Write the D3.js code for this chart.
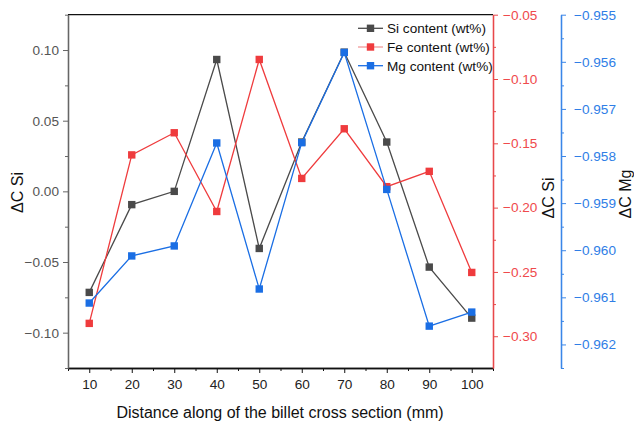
<!DOCTYPE html>
<html>
<head>
<meta charset="utf-8">
<script src="https://cdn.jsdelivr.net/npm/d3@7"></script>
<style>
  body { margin: 0; background: #fff; }
  text { font-family: "Liberation Sans", Arial, sans-serif; }
</style>
</head>
<body>
<svg width="634" height="422"></svg>
<script>
var svg = d3.select('svg');

// data
var distance = [10, 20, 30, 40, 50, 60, 70, 80, 90, 100];
var siValues = [-0.0715, -0.0094, 0.0000, 0.0933, -0.0404, 0.0349, 0.0985, 0.0349, -0.0536, -0.0897];
var feValues = [-0.290, -0.159, -0.1418, -0.203, -0.0848, -0.1773, -0.1387, -0.1837, -0.1718, -0.2504];
var mgValues = [-0.961121, -0.960121, -0.959909, -0.957723, -0.960823, -0.957717, -0.955802, -0.958709, -0.961611, -0.961313];

var xTicks = [10, 20, 30, 40, 50, 60, 70, 80, 90, 100];
var siTicks = [-0.10, -0.05, 0.00, 0.05, 0.10];
var feTicks = [-0.30, -0.25, -0.20, -0.15, -0.10, -0.05];
var mgTicks = [-0.962, -0.961, -0.960, -0.959, -0.958, -0.957, -0.956, -0.955];

var series = [
  { name: 'Si content (wt%)', values: siValues, color: '#4a4a4a', legendLine: '#4a4a4a', axis: 'si' },
  { name: 'Fe content (wt%)', values: feValues, color: '#ef3b3d', legendLine: '#f29a9a', axis: 'fe' },
  { name: 'Mg content (wt%)', values: mgValues, color: '#1a6ee4', legendLine: '#1a6ee4', axis: 'mg' }
];

var plotL = 68, plotR = 493, plotT = 14.7, plotB = 368;
var mgAxisX = 561;

var x = d3.scaleLinear().domain([5, 105]).range([plotL, plotR]);
var ySi = d3.scaleLinear().domain([-0.125, 0.125]).range([plotB, plotT]);
var yFe = d3.scaleLinear().domain([-0.3247, -0.05]).range([plotB, plotT]);
var yMg = d3.scaleLinear().domain([-0.9625, -0.955]).range([plotB, plotT]);
var scales = { si: ySi, fe: yFe, mg: yMg };

// minor ticks halfway between majors, kept inside the domain
function minors(major, step, domain) {
  var lo = Math.min(domain[0], domain[1]), hi = Math.max(domain[0], domain[1]);
  var out = [];
  var cands = major.map(function(v) { return v - step / 2; });
  cands.push(major[major.length - 1] + step / 2);
  cands.forEach(function(v) {
    if (v >= lo - 1e-9 && v <= hi + 1e-9) out.push(v);
  });
  return out;
}

// top frame line
svg.append('line')
  .attr('x1', plotL).attr('x2', plotR)
  .attr('y1', plotT).attr('y2', plotT)
  .attr('stroke', '#111').attr('stroke-width', 1.3);

// bottom axis
var gx = svg.append('g').attr('transform', 'translate(0,' + plotB + ')');
gx.call(d3.axisBottom(x).tickValues(xTicks).tickSize(5).tickSizeOuter(0).tickPadding(6).tickFormat(d3.format('d')));
gx.append('g').call(d3.axisBottom(x).tickValues(minors(xTicks, 10, x.domain())).tickSize(3).tickSizeOuter(0).tickFormat(''));
gx.selectAll('path').attr('stroke', '#111').attr('stroke-width', 1.3);
gx.selectAll('line').attr('stroke', '#111');
gx.selectAll('text').attr('font-size', 13.6).attr('fill', '#222');

// left axis
var gl = svg.append('g').attr('transform', 'translate(' + plotL + ',0)');
gl.call(d3.axisLeft(ySi).tickValues(siTicks).tickSize(5).tickSizeOuter(0).tickPadding(4).tickFormat(d3.format('.2f')));
gl.append('g').call(d3.axisLeft(ySi).tickValues(minors(siTicks, 0.05, ySi.domain())).tickSize(3).tickSizeOuter(0).tickFormat(''));
gl.selectAll('path').attr('stroke', '#666').attr('stroke-width', 1.3);
gl.selectAll('line').attr('stroke', '#666');
gl.selectAll('text').attr('font-size', 13.6).attr('fill', '#555');

// red right axis
var gr = svg.append('g').attr('transform', 'translate(' + plotR + ',0)');
gr.call(d3.axisRight(yFe).tickValues(feTicks).tickSize(5).tickSizeOuter(0).tickPadding(5).tickFormat(d3.format('.2f')));
gr.append('g').call(d3.axisRight(yFe).tickValues(minors(feTicks, 0.05, yFe.domain())).tickSize(3).tickSizeOuter(0).tickFormat(''));
gr.selectAll('path').attr('stroke', '#e8484a').attr('stroke-width', 1.3);
gr.selectAll('line').attr('stroke', '#e8484a');
gr.selectAll('text').attr('font-size', 13.6).attr('fill', '#ef4a4c');

// blue right axis
var gb = svg.append('g').attr('transform', 'translate(' + mgAxisX + ',0)');
gb.call(d3.axisRight(yMg).tickValues(mgTicks).tickSize(5).tickSizeOuter(0).tickPadding(8).tickFormat(d3.format('.3f')));
gb.append('g').call(d3.axisRight(yMg).tickValues(minors(mgTicks, 0.001, yMg.domain())).tickSize(3).tickSizeOuter(0).tickFormat(''));
gb.selectAll('path').attr('stroke', '#3a86e8').attr('stroke-width', 1.3);
gb.selectAll('line').attr('stroke', '#3a86e8');
gb.selectAll('text').attr('font-size', 13.6).attr('fill', '#2f7ee6');
svg.selectAll('.domain').attr('fill', 'none');

// axis titles
svg.append('text')
  .attr('transform', 'translate(23,192.5) rotate(-90)')
  .attr('text-anchor', 'middle').attr('font-size', 16).attr('fill', '#111')
  .text('\u0394C Si');
svg.append('text')
  .attr('transform', 'translate(554,198) rotate(-90)')
  .attr('text-anchor', 'middle').attr('font-size', 16).attr('fill', '#111')
  .text('\u0394C Si');
svg.append('text')
  .attr('transform', 'translate(631,194) rotate(-90)')
  .attr('text-anchor', 'middle').attr('font-size', 16).attr('fill', '#111')
  .text('\u0394C Mg');
svg.append('text')
  .attr('x', 280).attr('y', 418)
  .attr('text-anchor', 'middle').attr('font-size', 16).attr('fill', '#111')
  .text('Distance along of the billet cross section (mm)');

// series lines and markers
series.forEach(function(s) {
  var y = scales[s.axis];
  var line = d3.line()
    .x(function(d, i) { return x(distance[i]); })
    .y(function(d) { return y(d); });
  var g = svg.append('g');
  g.append('path')
    .datum(s.values)
    .attr('d', line)
    .attr('fill', 'none')
    .attr('stroke', s.color)
    .attr('stroke-width', 1.3);
  g.selectAll('rect')
    .data(s.values)
    .enter()
    .append('rect')
    .attr('x', function(d, i) { return x(distance[i]) - 3.7; })
    .attr('y', function(d) { return y(d) - 3.7; })
    .attr('width', 7.4)
    .attr('height', 7.4)
    .attr('fill', s.color);
});

// legend
var legend = svg.append('g').attr('transform', 'translate(358,28.3)');
series.forEach(function(s, i) {
  var row = legend.append('g').attr('transform', 'translate(0,' + (i * 18.7) + ')');
  row.append('line')
    .attr('x1', 0).attr('x2', 25)
    .attr('stroke', s.legendLine).attr('stroke-width', 1.3);
  row.append('rect')
    .attr('x', 8.8).attr('y', -3.7)
    .attr('width', 7.4).attr('height', 7.4)
    .attr('fill', s.color);
  row.append('text')
    .attr('x', 29).attr('y', 5)
    .attr('font-size', 13.6).attr('fill', '#111')
    .text(s.name);
});
</script>
</body>
</html>
